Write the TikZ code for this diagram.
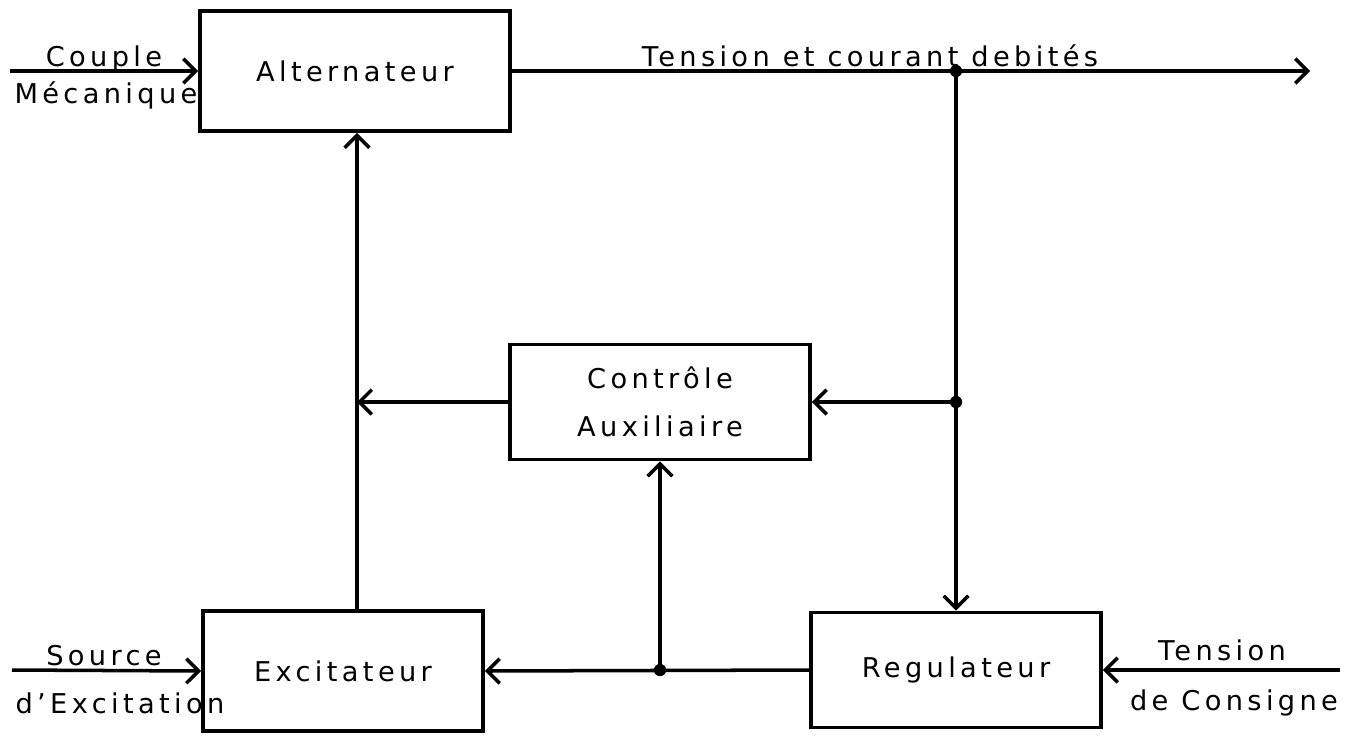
\documentclass[tikz,border=0pt]{standalone}
\usepackage{fontspec}
\setmainfont{DejaVu Sans}[LetterSpace=16]
\usetikzlibrary{arrows.meta}
\tikzset{
  blk/.style={draw, line width=2.2pt, minimum width=#1, inner sep=0pt, align=center, font=\fontsize{15.5}{27}\selectfont},
  conn/.style={line width=2pt, -{Straight Barb[length=7pt,width=14pt,line width=2pt]}},
  lbl/.style={font=\fontsize{15.5}{17}\selectfont, inner sep=0pt},
  dot/.style={circle, fill, inner sep=0pt, minimum size=7pt}
}
\begin{document}
\begin{tikzpicture}[x=0.02cm,y=-0.02cm]
\useasboundingbox (0,0) rectangle (1351,738);
\node[blk=6.2cm, minimum height=2.4cm] (alt) at (355,71) {Alternateur};
\node[blk=6cm, minimum height=2.3cm] (ctl) at (660,402) {Contrôle\\Auxiliaire};
\node[blk=5.6cm, minimum height=2.4cm] (exc) at (343,671) {Excitateur};
\node[blk=5.8cm, minimum height=2.3cm] (reg) at (956,670) {Regulateur};

\coordinate (vl) at (357,402);
\coordinate (j1) at (956,71);
\coordinate (j2) at (956,402);
\coordinate (j3) at (660,670);
\coordinate (out) at (1310,71);
\coordinate (cin) at (10,71);
\coordinate (sin) at (12,670);
\coordinate (tin) at (1340,670);

\draw[conn] (alt.east) -- (out);
\draw[conn] (cin) -- (alt.west);
\draw[conn] (sin) -- (exc.west);
\draw[conn] (tin) -- (reg.east);
\draw[conn] (vl |- exc.north) -- (vl |- alt.south);
\draw[conn] (ctl.west) -- (vl);
\draw[conn] (j1) -- (reg.north);
\draw[conn] (j2) -- (ctl.east);
\draw[conn] (reg.west) -- (exc.east);
\draw[conn] (j3) -- (ctl.south);
\node[dot] (d1) at (j1) {};
\node[dot] (d2) at (j2) {};
\node[dot] (d3) at (j3) {};

\node[lbl] (tc) at (870,56) {Tension et courant debités};
\node[lbl] (cp) at (104,59) {Couple};
\node[lbl] (mc) at (106,95) {Mécanique};
\node[lbl] (sr) at (104,656) {Source};
\node[lbl] (de) at (120,703) {d'Excitation};
\node[lbl] (te) at (1222,650) {Tension};
\node[lbl] (dc) at (1234,703) {de Consigne};
\end{tikzpicture}
\end{document}
